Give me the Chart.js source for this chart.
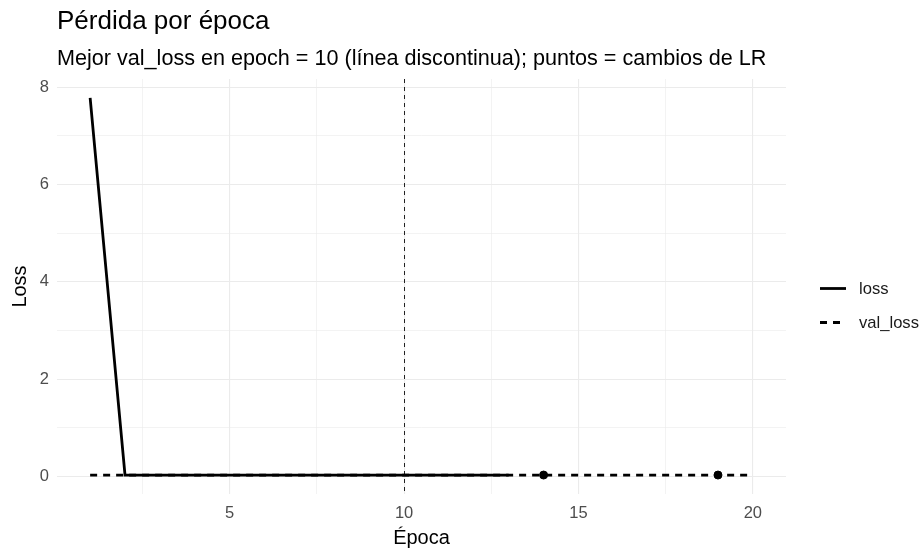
<!DOCTYPE html>
<html>
<head>
<meta charset="utf-8">
<script src="https://cdn.jsdelivr.net/npm/chart.js@4/dist/chart.umd.min.js"></script>
<style>
  html, body { margin: 0; padding: 0; background: #fff; }
  #wrap { width: 923px; height: 550px; position: relative; }
</style>
</head>
<body>
<div id="wrap"><canvas id="chart" width="923" height="550"></canvas></div>
<script>
// Loss per epoch
const epochs = [1, 2, 3, 4, 5, 6, 7, 8, 9, 10, 11, 12, 13, 14, 15, 16, 17, 18, 19, 20];
const loss = [7.78, 0.03, 0.03, 0.03, 0.03, 0.03, 0.03, 0.03, 0.03, 0.03, 0.03, 0.03, 0.03];
const valLoss = [0.03, 0.03, 0.03, 0.03, 0.03, 0.03, 0.03, 0.03, 0.03, 0.028, 0.03, 0.03, 0.03, 0.03, 0.03, 0.03, 0.03, 0.03, 0.03, 0.03];
const lrChangeEpochs = [14, 19];
const bestEpoch = 10;

const xTickLabels = [5, 10, 15, 20];
const xGridValues = [2.5, 5, 7.5, 10, 12.5, 15, 17.5, 20];
const yTickLabels = [0, 2, 4, 6, 8];
const yGridValues = [0, 1, 2, 3, 4, 5, 6, 7, 8];

const titleText = 'Pérdida por época';
const subtitleText = 'Mejor val_loss en epoch = 10 (línea discontinua); puntos = cambios de LR';
const FONT = "'Liberation Sans', Arial, sans-serif";

const lossPts = loss.map((v, i) => ({ x: epochs[i], y: v }));
const valPts = valLoss.map((v, i) => ({ x: epochs[i], y: v }));
const lrPts = lrChangeEpochs.map(e => ({ x: e, y: valLoss[epochs.indexOf(e)] }));

// ggplot-like 5% expansion of the data range
const yMinData = Math.min(...loss, ...valLoss), yMaxData = Math.max(...loss, ...valLoss);
const yPad = (yMaxData - yMinData) * 0.05;
const xPad = (epochs[epochs.length - 1] - epochs[0]) * 0.05;

const overlay = {
  id: 'overlay',
  beforeDatasetsDraw(chart) {
    // vertical dashed line at best epoch
    const { ctx, chartArea } = chart;
    const x = Math.round(chart.scales.x.getPixelForValue(bestEpoch)) + 0.5;
    ctx.save();
    ctx.strokeStyle = '#222';
    ctx.lineWidth = 1;
    ctx.setLineDash([4, 4]);
    ctx.beginPath();
    ctx.moveTo(x, chartArea.top);
    ctx.lineTo(x, chartArea.bottom);
    ctx.stroke();
    ctx.restore();
  },
  afterDraw(chart) {
    const { ctx } = chart;
    ctx.save();
    ctx.fillStyle = '#000';
    ctx.textBaseline = 'alphabetic';
    ctx.textAlign = 'left';
    ctx.font = `26px ${FONT}`;
    ctx.fillText(titleText, 57, 29);
    ctx.font = `21.6px ${FONT}`;
    ctx.fillText(subtitleText, 57, 65);

    // legend
    ctx.textBaseline = 'middle';
    const items = [
      { label: 'loss', dash: [], y: 288.5 },
      { label: 'val_loss', dash: [7, 6], y: 322.5 },
    ];
    items.forEach(it => {
      ctx.strokeStyle = '#000';
      ctx.lineWidth = 2.8;
      ctx.setLineDash(it.dash);
      ctx.beginPath();
      ctx.moveTo(820, it.y);
      ctx.lineTo(846, it.y);
      ctx.stroke();
      ctx.setLineDash([]);
      ctx.font = `16.6px ${FONT}`;
      ctx.fillStyle = '#1a1a1a';
      ctx.fillText(it.label, 859, it.y + 1);
    });
    ctx.restore();
  },
};

new Chart(document.getElementById('chart'), {
  type: 'line',
  data: {
    datasets: [
      {
        label: 'loss',
        data: lossPts,
        borderColor: '#000',
        borderWidth: 2.8,
        pointRadius: 0,
        tension: 0,
        order: 1,
      },
      {
        label: 'val_loss',
        data: valPts,
        borderColor: '#000',
        borderWidth: 2.8,
        borderDash: [7, 6],
        pointRadius: 0,
        tension: 0,
        order: 3,
      },
      {
        label: 'LR',
        data: lrPts,
        showLine: false,
        pointRadius: 4,
        pointBackgroundColor: '#000',
        pointBorderColor: '#000',
        order: 2,
      },
    ],
  },
  options: {
    responsive: false,
    animation: false,
    devicePixelRatio: 1,
    layout: { padding: { left: 4, right: 137, top: 79, bottom: 0 } },
    plugins: {
      legend: { display: false },
      tooltip: { enabled: false },
    },
    scales: {
      x: {
        type: 'linear',
        min: epochs[0] - xPad,
        max: epochs[epochs.length - 1] + xPad,
        border: { display: false },
        grid: {
          drawTicks: false,
          color: '#ebebeb',
          lineWidth: c => (xTickLabels.includes(c.tick.value) ? 1.1 : 0.6),
        },
        afterBuildTicks: s => { s.ticks = xGridValues.map(v => ({ value: v })); },
        afterFit: s => { s.height = 56; },
        ticks: {
          autoSkip: false,
          maxRotation: 0,
          padding: 10,
          color: '#4d4d4d',
          font: { family: FONT, size: 16.5 },
          callback: v => (xTickLabels.includes(v) ? String(v) : ''),
        },
        title: {
          display: true,
          text: 'Época',
          color: '#000',
          font: { family: FONT, size: 20 },
          padding: { top: 0, bottom: 0 },
        },
      },
      y: {
        type: 'linear',
        min: yMinData - yPad,
        max: yMaxData + yPad,
        border: { display: false },
        grid: {
          drawTicks: false,
          color: '#ebebeb',
          lineWidth: c => (yTickLabels.includes(c.tick.value) ? 1.1 : 0.6),
        },
        afterBuildTicks: s => { s.ticks = yGridValues.map(v => ({ value: v })); },
        afterFit: s => { s.width = 53; },
        ticks: {
          autoSkip: false,
          padding: 8,
          color: '#4d4d4d',
          font: { family: FONT, size: 16.5 },
          callback: v => (yTickLabels.includes(v) ? String(v) : ''),
        },
        title: {
          display: true,
          text: 'Loss',
          color: '#000',
          font: { family: FONT, size: 20 },
          padding: { top: 4, bottom: 0 },
        },
      },
    },
  },
  plugins: [overlay],
});
</script>
</body>
</html>
